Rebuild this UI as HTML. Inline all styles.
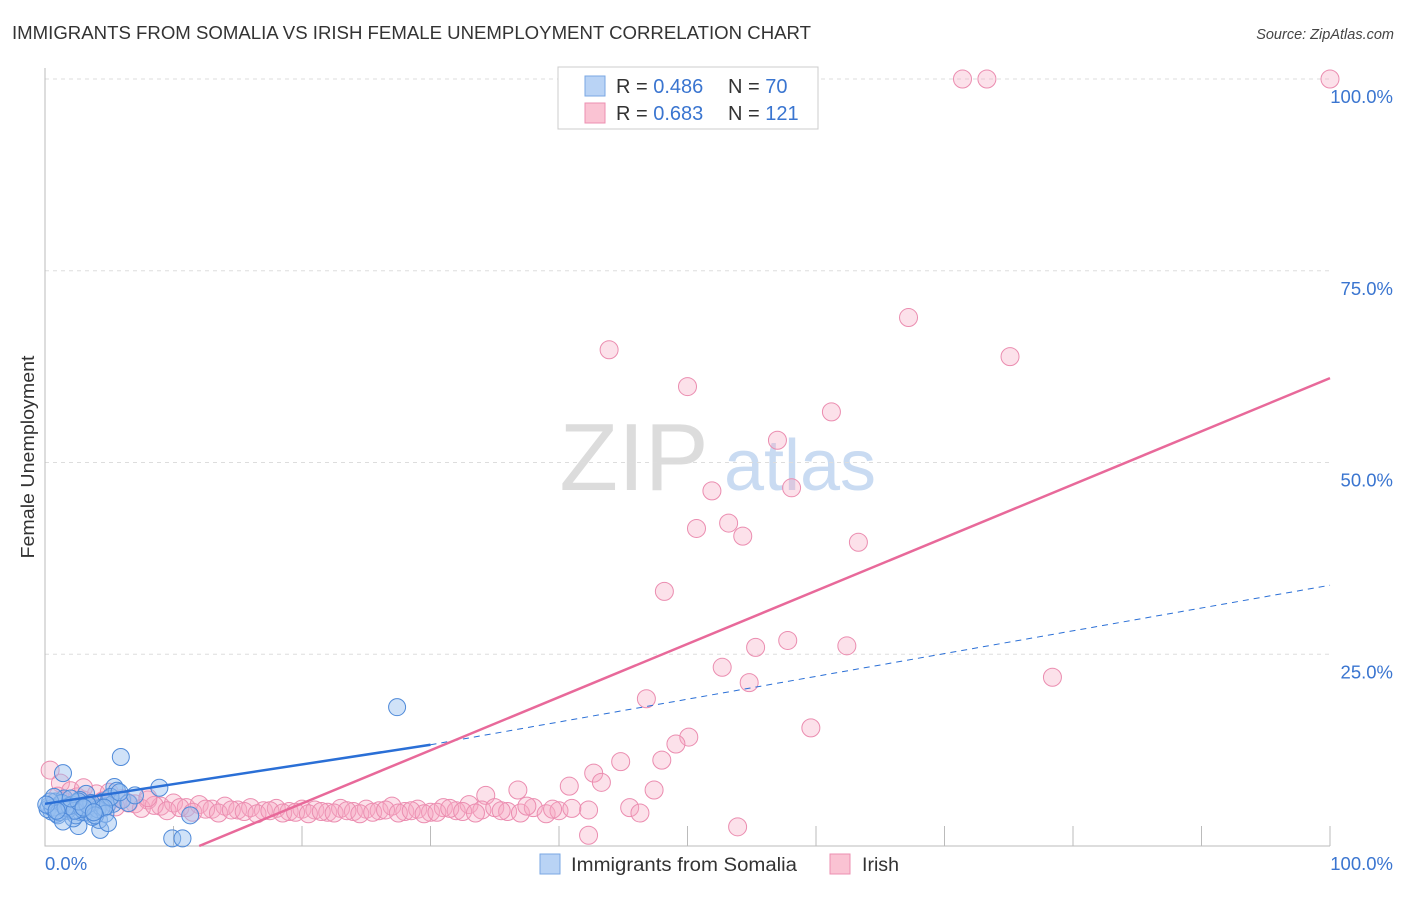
<!DOCTYPE html>
<html><head><meta charset="utf-8"><style>
body{margin:0;background:#fff;font-family:"Liberation Sans",sans-serif;}
svg text{font-family:"Liberation Sans",sans-serif;}
</style></head><body>
<svg id="chart" width="1406" height="892" viewBox="0 0 1406 892">
<text x="12" y="39" font-size="18" fill="#333" textLength="799" lengthAdjust="spacingAndGlyphs">IMMIGRANTS FROM SOMALIA VS IRISH FEMALE UNEMPLOYMENT CORRELATION CHART</text>
<text x="1394" y="39" font-size="14.5" fill="#444" text-anchor="end" font-style="italic">Source: ZipAtlas.com</text>
<text transform="translate(34,457) rotate(-90)" font-size="18" fill="#333" text-anchor="middle" textLength="203" lengthAdjust="spacingAndGlyphs">Female Unemployment</text>
<g>
<text x="634" y="490" font-size="96" font-family="Liberation Serif,serif" fill="#dcdcdc" text-anchor="middle">ZIP</text>
<text x="800" y="490" font-size="72" fill="#c9dbf2" text-anchor="middle">atlas</text>
</g>
<g id="grid"></g>
<g id="marks"></g>
<g>
<rect x="558" y="67" width="260" height="62" fill="#fff" stroke="#ccc"/>
<rect x="585" y="76" width="20" height="20" fill="#b9d3f5" stroke="#7aa7e3"/>
<rect x="585" y="103" width="20" height="20" fill="#fac3d3" stroke="#ec8fb0"/>
<text x="616" y="93" font-size="20" fill="#333">R = <tspan fill="#3a75d0">0.486</tspan></text>
<text x="728" y="93" font-size="20" fill="#333">N = <tspan fill="#3a75d0">70</tspan></text>
<text x="616" y="120" font-size="20" fill="#333">R = <tspan fill="#3a75d0">0.683</tspan></text>
<text x="728" y="120" font-size="20" fill="#333">N = <tspan fill="#3a75d0">121</tspan></text>
</g>
<g>
<rect x="540" y="854" width="20" height="20" fill="#b9d3f5" stroke="#7aa7e3"/>
<text x="571" y="871" font-size="19" fill="#333" textLength="226" lengthAdjust="spacingAndGlyphs">Immigrants from Somalia</text>
<rect x="830" y="854" width="20" height="20" fill="#fac3d3" stroke="#ec8fb0"/>
<text x="862" y="871" font-size="19" fill="#333" textLength="37" lengthAdjust="spacingAndGlyphs">Irish</text>
</g>
</svg>
<script>
const yTicks=[25,50,75,100];
const yTickLabels=["25.0%","50.0%","75.0%","100.0%"];
const xTicks=[0,10,20,30,40,50,60,70,80,90,100];
const pinkX=[71.4,73.3,100,67.2,43.9,75.1,50.0,61.2,57.0,51.9,58.1,50.7,53.2,54.3,63.3,48.2,57.8,55.3,62.4,52.7,54.8,78.4,46.8,50.1,49.1,59.6,48.0,44.8,42.7,43.3,40.8,36.8,34.3,47.4,42.3,45.5,46.3,53.9,42.3,0.4,1.2,
1,2,3,4,5,6,7,8,9,10,11,12,13,14,15,16,17,18,19,20,21,22,23,24,25,26,27,28,29,30,31,32,33,34,35,36,37,38,39,40,41,
1.5,2.5,3.5,4.5,5.5,6.5,7.5,8.5,9.5,10.5,11.5,12.5,13.5,14.5,15.5,16.5,17.5,18.5,19.5,20.5,21.5,22.5,23.5,24.5,25.5,26.5,27.5,28.5,29.5,30.5,31.5,32.5,33.5,35.5,37.5,39.5,3,5,8];
const pinkY=[100,100,100,68.9,64.7,63.8,59.9,56.6,52.9,46.3,46.7,41.4,42.1,40.4,39.6,33.2,26.8,25.9,26.1,23.3,21.3,22.0,19.2,14.2,13.3,15.4,11.2,11.0,9.5,8.3,7.8,7.3,6.6,7.3,4.7,5.0,4.3,2.5,1.4,9.9,8.2,
6.5,7.2,6.0,6.8,5.8,6.2,5.5,6.0,5.2,5.6,5.0,5.4,4.8,5.2,4.7,5.0,4.6,4.9,4.5,4.8,4.7,4.4,4.9,4.5,4.8,4.6,5.2,4.5,4.8,4.4,5.0,4.6,5.4,4.7,5.0,4.5,4.3,5.0,4.2,4.6,4.9,
5.8,6.4,5.4,5.9,5.1,5.6,4.9,5.3,4.6,5.0,4.4,4.8,4.3,4.7,4.5,4.2,4.6,4.3,4.4,4.2,4.5,4.3,4.6,4.2,4.4,4.7,4.3,4.6,4.2,4.4,4.9,4.5,4.3,4.6,5.2,4.8,7.6,7.0,6.3];
const blueX=[27.4,5.9,8.9,9.9,10.7,4.3,11.3,5.4,1.4,2.6,0.3,0.5,0.8,1.0,1.2,1.5,1.8,2.0,2.2,2.5,2.8,3.0,3.2,3.5,3.8,4.0,4.2,4.5,4.8,5.0,5.3,5.6,6.0,6.5,7.0,0.2,0.6,0.9,1.3,1.7,2.1,2.4,2.7,3.1,3.4,3.7,4.1,4.4,4.7,5.1,0.4,1.1,1.9,2.9,3.6,4.6,0.7,1.6,2.3,3.3,3.9,0.1,1.4,2.6,4.9,5.8,0.9,2.0,3.0,3.8];
const blueY=[18.1,11.6,7.6,1.0,1.0,2.1,4.0,7.7,9.5,2.6,5.2,4.5,5.8,4.0,5.5,6.2,4.8,5.0,3.6,5.6,4.4,5.2,6.8,4.2,5.0,4.6,3.4,5.8,5.2,6.2,5.5,7.2,6.0,5.6,6.6,4.8,5.0,4.2,5.6,4.6,5.4,4.0,6.0,4.4,5.2,3.8,4.8,5.0,4.2,6.4,5.8,4.4,5.2,4.8,5.6,5.0,6.4,5.0,4.6,5.4,4.0,5.4,3.2,5.8,3.0,7.0,4.6,6.2,5.0,4.4];
const pinkLine=[12,0,100,61];
const blueLine=[0,5.5,30,13.2,100,34];
const X=v=>45+v*12.85, Y=v=>846-v*7.67;
const NS="http://www.w3.org/2000/svg";
const grid=document.getElementById('grid'), marks=document.getElementById('marks');
function mk(tag,attrs,parent){const e=document.createElementNS(NS,tag);for(const k in attrs)e.setAttribute(k,attrs[k]);parent.appendChild(e);return e;}
yTicks.forEach((t,i)=>{
 const l=mk('line',{x1:45,x2:1330,y1:Y(t),y2:Y(t),stroke:'#ddd','stroke-dasharray':'4,4'},grid);
 
 
 const tx=mk('text',{x:1393,y:Y(t)+24,'font-size':18.5,fill:'#3a75d0','text-anchor':'end'},grid);
 tx.textContent=yTickLabels[i];
 
 
});
xTicks.forEach(t=>{
 const l=mk('line',{x1:X(t),x2:X(t),y1:826,y2:846,stroke:'#bbb'},grid);
 
 
});
const ax=mk('path',{d:'M45 68V846H1330',fill:'none',stroke:'#bbb'},grid);


const xl0=mk('text',{x:45,y:870,'font-size':18.5,fill:'#3a75d0'},grid);xl0.textContent='0.0%';


const xl1=mk('text',{x:1393,y:870,'font-size':18.5,fill:'#3a75d0','text-anchor':'end'},grid);xl1.textContent='100.0%';


pinkX.forEach((x,i)=>{
 const c=mk('circle',{cx:X(x),cy:Y(pinkY[i]),r:9,fill:'rgba(246,168,195,0.35)',stroke:'#eb8db0','stroke-width':1},marks);
 
 
});
blueX.forEach((x,i)=>{
 const c=mk('circle',{cx:X(x),cy:Y(blueY[i]),r:8.5,fill:'rgba(150,190,240,0.45)',stroke:'#4f8ad9','stroke-width':1},marks);
 
 
});
const bl=mk('line',{x1:X(blueLine[0]),y1:Y(blueLine[1]),x2:X(blueLine[2]),y2:Y(blueLine[3]),stroke:'#2a6fd6','stroke-width':2.5},marks);


const bd=mk('line',{x1:X(blueLine[2]),y1:Y(blueLine[3]),x2:X(blueLine[4]),y2:Y(blueLine[5]),stroke:'#2a6fd6','stroke-width':1,'stroke-dasharray':'6,5'},marks);


const pl=mk('line',{x1:X(pinkLine[0]),y1:Y(pinkLine[1]),x2:X(pinkLine[2]),y2:Y(pinkLine[3]),stroke:'#e8699a','stroke-width':2.5},marks);


</script>
</body></html>
